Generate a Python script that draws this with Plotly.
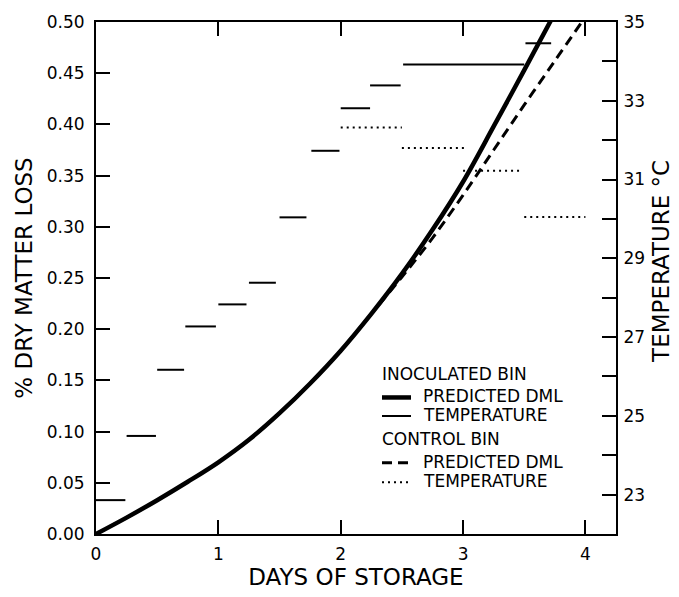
import plotly.graph_objects as go

# ---- data ----
days_inoc = [0, 0.25, 0.5, 0.75, 1.0, 1.25, 1.5, 1.75, 2.0, 2.25, 2.5, 2.75, 3.0, 3.25, 3.5, 3.72]
dml_inoc = [0, 0.016, 0.033, 0.051, 0.070, 0.092, 0.118, 0.147, 0.179, 0.215, 0.254, 0.297, 0.344, 0.398, 0.453, 0.502]

days_ctrl = [0, 0.25, 0.5, 0.75, 1.0, 1.25, 1.5, 1.75, 2.0, 2.25, 2.5, 2.75, 3.0, 3.25, 3.5, 3.75, 3.97]
dml_ctrl = [0, 0.016, 0.033, 0.051, 0.070, 0.092, 0.118, 0.147, 0.179, 0.215, 0.251, 0.289, 0.331, 0.375, 0.419, 0.462, 0.500]

temp_inoc_start = [0.0, 0.25, 0.50, 0.73, 1.00, 1.25, 1.50, 1.76, 2.00, 2.24, 2.51, 3.51]
temp_inoc_end = [0.24, 0.49, 0.72, 0.98, 1.23, 1.47, 1.72, 1.99, 2.24, 2.49, 3.50, 3.72]
temp_inoc = [22.86, 24.49, 26.17, 27.27, 27.83, 28.38, 30.04, 31.73, 32.81, 33.39, 33.92, 34.46]

temp_ctrl_start = [2.00, 2.50, 3.00, 3.50]
temp_ctrl_end = [2.50, 3.01, 3.48, 4.00]
temp_ctrl = [32.32, 31.80, 31.22, 30.05]

dml_ticks = [0, 0.05, 0.10, 0.15, 0.20, 0.25, 0.30, 0.35, 0.40, 0.45, 0.50]
day_ticks = [0, 1, 2, 3, 4]
temp_ticks = [23, 24, 25, 26, 27, 28, 29, 30, 31, 32, 33, 34, 35]
temp_ticktext = ["23", "", "25", "", "27", "", "29", "", "31", "", "33", "", "35"]

legend_groups = ["INOCULATED BIN", "CONTROL BIN"]
legend_items = ["PREDICTED DML", "TEMPERATURE"]


def segments(starts, ends, vals):
    xs, ys = [], []
    for s, e, v in zip(starts, ends, vals):
        xs += [s, e, None]
        ys += [v, v, None]
    return xs, ys


FONT = "DejaVu Sans"
W, H = 679, 597
ML, MR, MT, MB = 96, 63, 18, 54
PW, PH = W - ML - MR, H - MT - MB


def px(xp):
    return (xp - ML) / PW


def py(yp):
    return (H - MB - yp) / PH


style_dml_inoc = dict(color="black", width=4.5)
style_dml_ctrl = dict(color="black", width=3, dash="10px,6px")
style_t_inoc = dict(color="black", width=2)
style_t_ctrl = dict(color="black", width=2, dash="2px,4px")

fig = go.Figure()

xi, yi = segments(temp_inoc_start, temp_inoc_end, temp_inoc)
xc, yc = segments(temp_ctrl_start, temp_ctrl_end, temp_ctrl)

fig.add_trace(go.Scatter(x=days_ctrl, y=dml_ctrl, mode="lines", name="Control predicted DML",
                         line=dict(shape="spline", smoothing=1.0, **style_dml_ctrl)))
fig.add_trace(go.Scatter(x=days_inoc, y=dml_inoc, mode="lines", name="Inoculated predicted DML",
                         line=dict(shape="spline", smoothing=1.0, **style_dml_inoc)))
fig.add_trace(go.Scatter(x=xi, y=yi, mode="lines", name="Inoculated temperature", yaxis="y2",
                         line=style_t_inoc))
fig.add_trace(go.Scatter(x=xc, y=yc, mode="lines", name="Control temperature", yaxis="y2",
                         line=style_t_ctrl))

axis_common = dict(
    showline=True, linecolor="black", linewidth=2,
    ticks="inside", ticklen=14, tickwidth=2, tickcolor="black",
    showgrid=False, zeroline=False,
    tickfont=dict(family=FONT, size=17, color="black"),
)

# ---- hand-built legend (text + sample lines) ----
LFONT = dict(family=FONT, size=17, color="black")
annotations = []
shapes = []
group_y = [379, 446]
item_y = [[402, 421], [469, 489]]
item_styles = [[style_dml_inoc, style_t_inoc], [style_dml_ctrl, style_t_ctrl]]
for g, gy, iys, sts in zip(legend_groups, group_y, item_y, item_styles):
    annotations.append(dict(x=px(380), y=py(gy), xref="paper", yref="paper", text=g,
                            showarrow=False, xanchor="left", yanchor="middle", font=LFONT))
    for label, iy, st in zip(legend_items, iys, sts):
        annotations.append(dict(x=px(421), y=py(iy), xref="paper", yref="paper", text=label,
                                showarrow=False, xanchor="left", yanchor="middle", font=LFONT))
        shapes.append(dict(type="line", xref="paper", yref="paper",
                           x0=px(382), x1=px(411), y0=py(iy + 1), y1=py(iy + 1), line=st))

# right axis title (placed slightly above centre, as in the reference)
annotations.append(dict(x=px(661), y=py(264), xref="paper", yref="paper",
                        text="TEMPERATURE °C", textangle=-90, showarrow=False,
                        xanchor="center", yanchor="middle",
                        font=dict(family=FONT, size=23, color="black")))

fig.update_layout(
    width=W, height=H,
    margin=dict(l=ML, r=MR, t=MT, b=MB),
    paper_bgcolor="white", plot_bgcolor="white",
    font=dict(family=FONT, color="black"),
    showlegend=False,
    xaxis=dict(
        range=[0, 4.25], tickvals=day_ticks, ticktext=[str(d) for d in day_ticks],
        mirror="ticks", ticklabelstandoff=4,
        title=dict(text="DAYS OF STORAGE", font=dict(family=FONT, size=23), standoff=4),
        **axis_common),
    yaxis=dict(
        range=[0, 0.5], tickvals=dml_ticks, tickformat=".2f", ticklabelstandoff=6,
        title=dict(text="% DRY MATTER LOSS", font=dict(family=FONT, size=23), standoff=8),
        **axis_common),
    yaxis2=dict(
        range=[22, 35], overlaying="y", side="right",
        tickvals=temp_ticks, ticktext=temp_ticktext, ticklabelstandoff=2,
        **axis_common),
    annotations=annotations,
    shapes=shapes,
)

fig.write_html("out.html")
